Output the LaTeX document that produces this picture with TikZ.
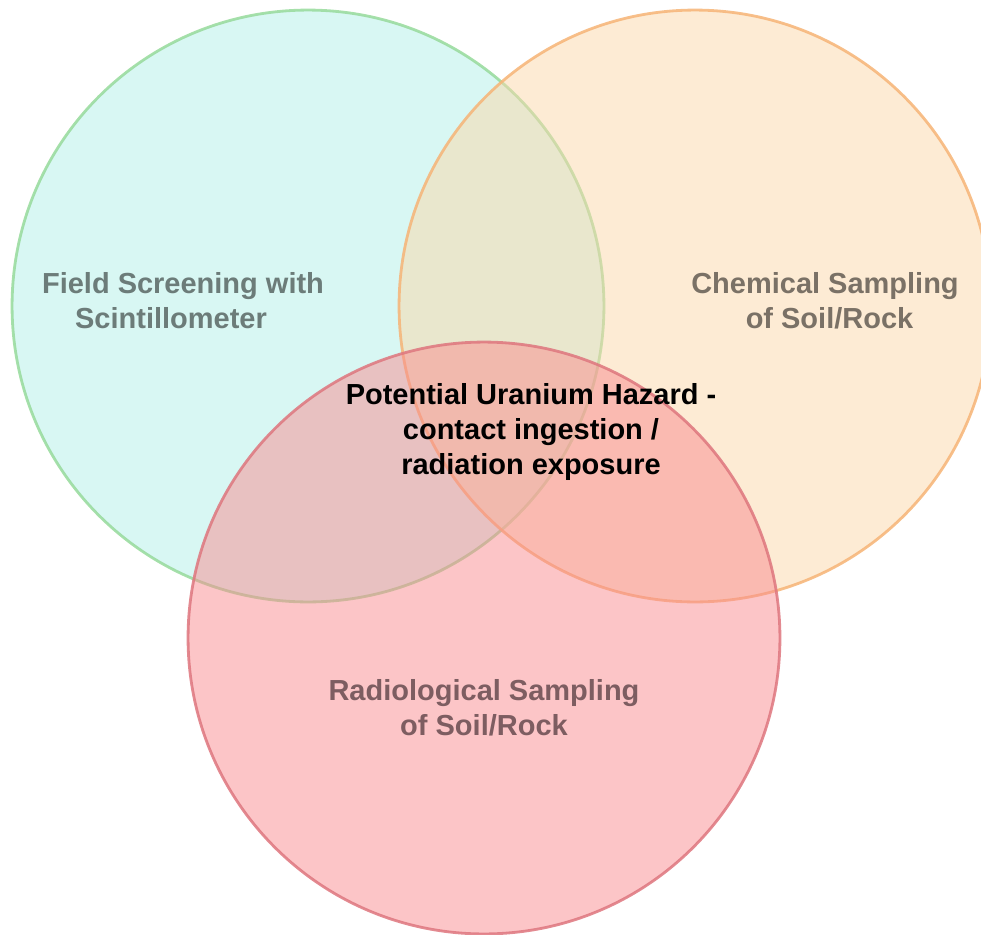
\documentclass[tikz,border=0pt]{standalone}
\usepackage{fontspec}
\setmainfont{Liberation Sans}
\usetikzlibrary{positioning}

\definecolor{fieldfill}{RGB}{177,239,231}
\definecolor{fieldline}{RGB}{150,218,155}
\definecolor{fieldtext}{RGB}{108,124,121}
\definecolor{chemfill}{RGB}{251,215,169}
\definecolor{chemline}{RGB}{246,180,118}
\definecolor{chemtext}{RGB}{122,113,102}
\definecolor{radfill}{RGB}{249,139,143}
\definecolor{radline}{RGB}{222,118,126}
\definecolor{radtext}{RGB}{125,93,97}

\begin{document}
\begin{tikzpicture}[
    x=0.02cm, y=-0.02cm,
    setnode/.style={circle, minimum size=11.84cm, inner sep=0pt, line width=1.6pt, fill opacity=0.5, draw opacity=0.85},
    setlabel/.style={align=center, font=\fontsize{16.5}{20}\selectfont\bfseries}
    ]
        \useasboundingbox (0,0) rectangle (981,934);

        %Circles
        \node[setnode, fill=fieldfill, draw=fieldline]
            (field) at (308,306)    {};
        \node[setnode, fill=chemfill, draw=chemline]
            (chem)  at (695,306)    {};
        \node[setnode, fill=radfill, draw=radline]
            (rad)   at (484,638)    {};

        %Labels
        \node[setlabel, text=fieldtext]
            (fieldlbl) at (183,301) {Field Screening with\\Scintillometer\hspace*{0.48cm}};
        \node[setlabel, text=chemtext]
            (chemlbl)  at (825,301) {Chemical Sampling\\\hspace*{0.18cm}of Soil/Rock};
        \node[setlabel, text=radtext]
            (radlbl)   at (484,708) {Radiological Sampling\\of Soil/Rock};
        \node[setlabel, text=black]
            (hazard)   at (531,432) {Potential Uranium Hazard -\\contact ingestion /\\radiation exposure};
    \end{tikzpicture}
\end{document}
